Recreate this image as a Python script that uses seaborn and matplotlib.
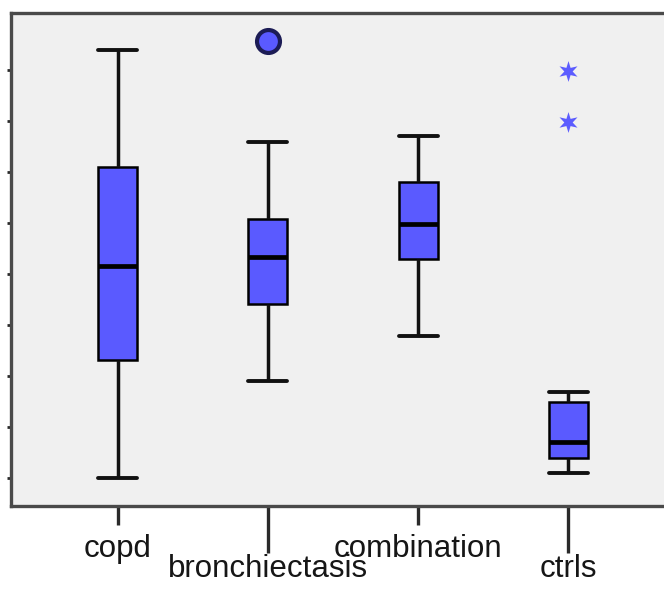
import matplotlib
matplotlib.use("Agg")
import matplotlib.pyplot as plt
from matplotlib.path import Path
import seaborn as sns
import pandas as pd

# Group names along the x axis
groups = ["copd", "bronchiectasis", "combination", "ctrls"]

# Five-number summaries per group: lower whisker, Q1, median, Q3, upper whisker
copd = [0.00, 2.32, 4.16, 6.10, 8.39]
bronchiectasis = [1.91, 3.42, 4.34, 5.08, 6.59]
combination = [2.79, 4.30, 4.98, 5.81, 6.71]
ctrls = [0.10, 0.40, 0.71, 1.49, 1.69]

# Outliers (circle) and extreme values (star)
outlier_groups = ["bronchiectasis"]
outlier_values = [8.57]
extreme_groups = ["ctrls", "ctrls"]
extreme_values = [7.98, 6.98]

# Unlabelled y ticks
y_ticks = [0, 1, 2, 3, 4, 5, 6, 7, 8]

BOX = "#5a5aff"
FRAME = "#4a4a4a"

sns.set_theme(style="white")
plt.rcParams["font.family"] = ["Liberation Sans", "DejaVu Sans"]

summary = {"copd": copd, "bronchiectasis": bronchiectasis,
           "combination": combination, "ctrls": ctrls}
df = pd.DataFrame([(g, v) for g in groups for v in summary[g]],
                  columns=["group", "value"])

fig = plt.figure(figsize=(6.64, 5.90), dpi=100)
fig.patch.set_facecolor("white")
ax = fig.add_axes([11 / 664, (590 - 506) / 590, (690 - 11) / 664, (506 - 13) / 590])
ax.set_facecolor("#f0f0f0")

sns.boxplot(data=df, x="group", y="value", order=groups, width=0.26,
            color=BOX, saturation=1, linecolor="black", linewidth=1.8,
            whis=1.5, showfliers=False, capwidths=0.26,
            medianprops=dict(linewidth=3.4, color="black"),
            whiskerprops=dict(linewidth=2.5, color="#111111"),
            capprops=dict(linewidth=2.8, color="#111111"),
            ax=ax)

# Circle for the outlier, asterisk-like star for extreme values
star = Path.unit_regular_star(6, innerCircle=0.4)
sns.stripplot(x=outlier_groups, y=outlier_values, order=groups, jitter=False,
              marker="o", size=16.5, color=BOX, edgecolor="#1c1c55",
              linewidth=3.0, ax=ax, zorder=5)
sns.stripplot(x=extreme_groups, y=extreme_values, order=groups, jitter=False,
              marker=star, size=15, color="#5c5cff", linewidth=0,
              ax=ax, zorder=5)

ax.set_xlim(-0.713, 3.813)
ax.set_ylim(-0.54, 9.12)
ax.set_xlabel("")
ax.set_ylabel("")

# Alternate label rows: short ticks on the first row, long ticks on the second
ax.set_xticks([0, 2])
ax.set_xticklabels(groups[0::2])
ax.set_xticks([1, 3], minor=True)
ax.set_xticklabels(groups[1::2], minor=True)
ax.tick_params(axis="x", which="major", bottom=True, length=13.5, width=2.4,
               color="#2a2a2a", direction="out", pad=6.5, labelsize=22.5,
               labelcolor="#161616")
ax.tick_params(axis="x", which="minor", bottom=True, length=34, width=2.4,
               color="#2a2a2a", direction="out", pad=0.5, labelsize=22.5,
               labelcolor="#161616")

ax.set_yticks(y_ticks)
ax.tick_params(axis="y", left=True, length=2.6, width=2.0, color="#2a2a2a",
               direction="out", labelleft=False)

for side in ["left", "top", "bottom"]:
    ax.spines[side].set_visible(True)
    ax.spines[side].set_color(FRAME)
    ax.spines[side].set_linewidth(2.4)
ax.spines["right"].set_visible(False)

fig.savefig("out.png", dpi=100)
